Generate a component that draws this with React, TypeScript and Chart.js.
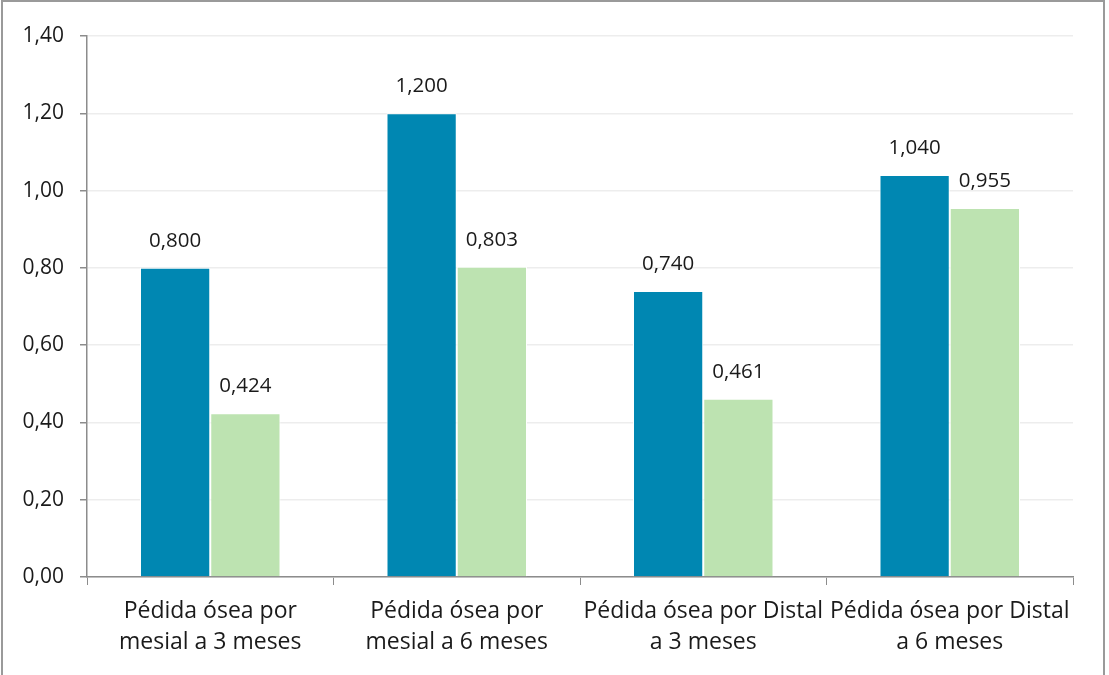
import React, { useEffect, useRef } from "react";
import { Chart, registerables } from "chart.js";

Chart.register(...registerables);

const categories: string[][] = [
  ["Pédida ósea por", "mesial a 3 meses"],
  ["Pédida ósea por", "mesial a 6 meses"],
  ["Pédida ósea por Distal", "a 3 meses"],
  ["Pédida ósea por Distal", "a 6 meses"],
];
const seriesA: number[] = [0.8, 1.2, 0.74, 1.04];
const seriesB: number[] = [0.424, 0.803, 0.461, 0.955];
const yTicks: number[] = [0, 0.2, 0.4, 0.6, 0.8, 1.0, 1.2, 1.4];

const FONT = "'Open Sans', 'Noto Sans', sans-serif";

const valueLabels = {
  id: "valueLabels",
  afterDatasetsDraw(chart: any) {
    const ctx = chart.ctx;
    ctx.save();
    ctx.font = `20.5px ${FONT}`;
    ctx.fillStyle = "#1a1a1a";
    ctx.textAlign = "center";
    ctx.textBaseline = "middle";
    chart.data.datasets.forEach((ds: any, i: number) => {
      const meta = chart.getDatasetMeta(i);
      meta.data.forEach((bar: any, j: number) => {
        const v = ds.data[j] as number;
        ctx.fillText(v.toFixed(3).replace(".", ","), bar.x, bar.y - 27);
      });
    });
    ctx.restore();
  },
};

export default function App() {
  const ref = useRef<HTMLCanvasElement>(null);
  useEffect(() => {
    if (!ref.current) return;
    const chart = new Chart(ref.current, {
      type: "bar",
      data: {
        labels: categories,
        datasets: [
          {
            label: "A",
            data: seriesA,
            backgroundColor: "#0087B2",
            borderColor: "#ffffff",
            borderWidth: 1,
            categoryPercentage: 0.57,
            barPercentage: 1,
          },
          {
            label: "B",
            data: seriesB,
            backgroundColor: "#BDE3B1",
            borderColor: "#ffffff",
            borderWidth: 1,
            categoryPercentage: 0.57,
            barPercentage: 1,
          },
        ],
      },
      options: {
        animation: false,
        responsive: false,
        maintainAspectRatio: false,
        layout: { padding: { left: 0, top: 36, right: 36, bottom: 0 } },
        plugins: {
          legend: { display: false },
          tooltip: { enabled: false },
        },
        scales: {
          x: {
            grid: {
              display: true,
              drawOnChartArea: false,
              drawTicks: true,
              tickLength: 8,
              color: "#8c8c8c",
              tickColor: "#8c8c8c",
              offset: true,
            },
            border: { color: "#8c8c8c", width: 1.5 },
            ticks: {
              color: "#1a1a1a",
              font: { family: FONT, size: 23, lineHeight: 1.36 },
              maxRotation: 0,
              minRotation: 0,
              padding: 11,
            },
            afterFit(scale: any) {
              scale.height = 98;
            },
          },
          y: {
            min: 0,
            max: 1.4,
            afterBuildTicks(scale: any) {
              scale.ticks = yTicks.map((v) => ({ value: v }));
            },
            grid: {
              color: "#EDEDED",
              tickColor: "#8c8c8c",
              tickLength: 7,
              lineWidth: 1.5,
            },
            border: { color: "#8c8c8c", width: 1.5 },
            ticks: {
              color: "#1a1a1a",
              font: { family: FONT, size: 21 },
              padding: 16,
              callback: (v: any) => Number(v).toFixed(2).replace(".", ","),
            },
            afterFit(scale: any) {
              scale.width = 87;
            },
          },
        },
      },
      plugins: [valueLabels],
    });
    return () => chart.destroy();
  }, []);

  return (
    <div style={{ position: "fixed", left: 0, top: 0, width: 1109, height: 675, background: "#fff", overflow: "hidden" }}>
      <div
        style={{
          position: "absolute",
          left: 1,
          top: 0,
          width: 1104,
          height: 700,
          border: "2px solid #9a9a9a",
          boxSizing: "border-box",
        }}
      />
      <canvas ref={ref} width={1109} height={675} style={{ position: "absolute", left: 0, top: 0 }} />
    </div>
  );
}
